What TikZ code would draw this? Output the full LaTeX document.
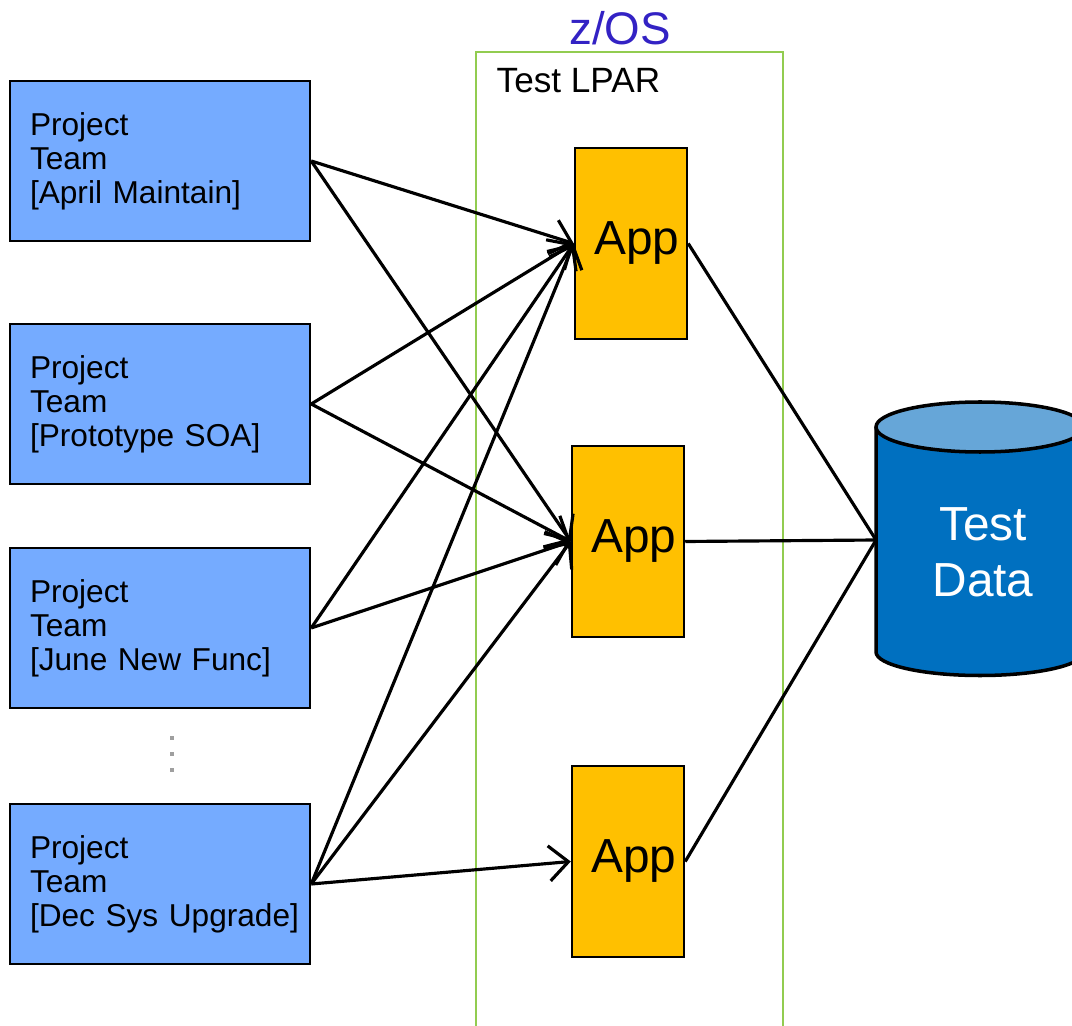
\documentclass[tikz,border=0pt]{standalone}
\usepackage{fontspec}
\setmainfont{Liberation Sans}
\usetikzlibrary{arrows.meta}

\definecolor{teamblue}{RGB}{117,171,255}
\definecolor{appgold}{RGB}{255,192,0}
\definecolor{lpargreen}{RGB}{146,204,80}
\definecolor{zosblue}{RGB}{51,34,196}
\definecolor{dbbody}{RGB}{0,112,192}
\definecolor{dbtop}{RGB}{102,166,216}

\begin{document}
\begin{tikzpicture}[
    team/.style={draw=black, fill=teamblue, line width=0.7pt, minimum width=3cm,
                 minimum height=1.6cm, inner xsep=0.2cm, text width=2.6cm, align=left,
                 font=\fontsize{9}{9.7}\selectfont},
    app/.style={draw=black, fill=appgold, line width=0.7pt, minimum width=1.12cm,
                minimum height=1.91cm, inner xsep=0pt, font=\fontsize{13.6}{15}\selectfont},
    link/.style={line width=0.9pt, -{Straight Barb[length=5.5pt,width=10pt]}},
    feed/.style={line width=0.9pt}
  ]
  \useasboundingbox (0,0) rectangle (10.72,-10.26);

  % LPAR frame
  \draw[lpargreen, line width=0.7pt] (4.76,-10.6) -- (4.76,-0.52) -- (7.83,-0.52) -- (7.83,-10.6);
  \node (zos) at (6.20,-0.28) [text=zosblue, font=\fontsize{13}{15}\selectfont] {z/OS};
  \node (lpar) at (4.96,-0.93) [anchor=base west, inner sep=0pt, font=\fontsize{10}{12}\selectfont] {Test LPAR};

  % project teams
  \node[team] (team1) at (1.60,-1.61) {Project\\Team\\\mbox{[April Maintain]}};
  \node[team] (team2) at (1.60,-4.04) {Project\\Team\\\mbox{[Prototype SOA]}};
  \node[team] (team3) at (1.60,-6.28) {Project\\Team\\\mbox{[June New Func]}};
  \node[team] (team4) at (1.60,-8.84) {Project\\Team\\\mbox{[Dec Sys Upgrade]}};
  \foreach \y in {7.38,7.54,7.70}
    \fill[gray!75] (1.72,-\y) +(-0.022,-0.022) rectangle +(0.022,0.022);

  % apps
  \node[app] (app1) at (6.31,-2.435) {\hspace*{0.12cm}App};
  \node[app] (app2) at (6.28,-5.415) {\hspace*{0.12cm}App};
  \node[app] (app3) at (6.28,-8.615) {\hspace*{0.12cm}App};

  % test data cylinder
  \fill[dbbody] (8.76,-4.27) -- (8.76,-6.52) arc[start angle=180, end angle=360, x radius=1.04, y radius=0.235] -- (10.84,-4.27) -- cycle;
  \draw[line width=1pt] (8.76,-4.27) -- (8.76,-6.52) arc[start angle=180, end angle=360, x radius=1.04, y radius=0.235] -- (10.84,-4.27);
  \filldraw[fill=dbtop, line width=1pt] (9.80,-4.27) ellipse[x radius=1.04, y radius=0.25];
  \coordinate (dbin) at (8.76,-5.40);
  \node (db) at (9.83,-5.52) [text=white, align=center, font=\fontsize{13.6}{15.9}\selectfont] {Test\\Data};

  % connectors
  \foreach \src/\dst in {team1/app1, team1/app2, team2/app1, team2/app2, team3/app1,
                         team3/app2, team4/app1, team4/app2, team4/app3}
    \draw[link] (\src.east) -- (\dst.west);
  \foreach \src in {app1, app2, app3}
    \draw[feed] (\src.east) -- (dbin);
\end{tikzpicture}
\end{document}
